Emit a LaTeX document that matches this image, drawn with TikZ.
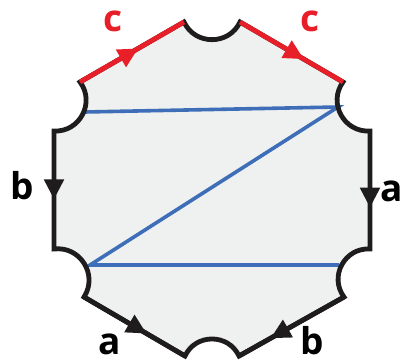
\documentclass[tikz,border=0pt]{standalone}
\usepackage{fontspec}
\setmainfont{Open Sans}
\usetikzlibrary{arrows.meta,decorations.markings}
\definecolor{fillgray}{RGB}{239,240,240}
\definecolor{edgered}{RGB}{232,30,40}
\definecolor{lineblue}{RGB}{62,110,184}
\definecolor{edgeblack}{RGB}{30,28,28}
\begin{document}
\begin{tikzpicture}[x=1pt,y=-1pt,
  notch/.style={bend right=65, looseness=1.19},
  outline/.style={color=edgeblack, draw, line width=4.8pt},
  rededge/.style={color=edgered, draw, line width=4.8pt},
  diag/.style={draw=lineblue, line width=3.6pt},
  midarrow/.style={postaction={decorate}, decoration={markings, mark=at position #1 with {\arrow{Triangle[length=20pt,width=19pt]}}}},
  lbl/.style={font=\fontsize{37}{42}\selectfont\bfseries, anchor=base, inner sep=0pt}
]
\useasboundingbox (0,0) rectangle (403,363);
% notch end points
\coordinate (A1) at (184,22);  \coordinate (B1) at (240,22);
\coordinate (A2) at (343,82);  \coordinate (B2) at (370,131);
\coordinate (A3) at (370,249); \coordinate (B3) at (344,297);
\coordinate (A4) at (239,356); \coordinate (B4) at (185,356);
\coordinate (A5) at (84,297);  \coordinate (B5) at (54,249);
\coordinate (A6) at (54,131);  \coordinate (B6) at (80,82);
% blue end points
\coordinate (U1) at (85,112);  \coordinate (U2) at (338,107);
\coordinate (L1) at (90,265);  \coordinate (L2) at (339,265);
% fill
\path[fill=fillgray] (B6) -- (A1) to[notch] (B1) -- (A2) to[notch] (B2) -- (A3) to[notch] (B3)
  -- (A4) to[notch] (B4) -- (A5) to[notch] (B5) -- (A6) to[notch] (B6) -- cycle;
% blue lines
\draw[diag] (U1) -- (U2) -- (L1) -- (L2);
% outline
\draw[outline] (B6) -- (A1) to[notch] (B1) -- (A2) to[notch] (B2) -- (A3) to[notch] (B3)
  -- (A4) to[notch] (B4) -- (A5) to[notch] (B5) -- (A6) to[notch] (B6) -- cycle;
% edges with arrows
\draw[rededge, midarrow=0.56] (B6) -- (A1);
\draw[rededge, midarrow=0.62] (B1) -- (A2);
\draw[outline, midarrow=0.65] (B2) -- (A3);
\draw[outline, midarrow=0.58] (A6) -- (B5);
\draw[outline, midarrow=0.62] (A5) -- (B4);
\draw[outline, midarrow=0.7] (B3) -- (A4);
% labels
\node[lbl, text=edgered] (lc1) at (113,32) {c};
\node[lbl, text=edgered] (lc2) at (310,32) {c};
\node[lbl] (lb1) at (22,199) {b};
\node[lbl] (la1) at (392,201) {a};
\node[lbl] (la2) at (110,354) {a};
\node[lbl] (lb2) at (312,354) {b};
\end{tikzpicture}
\end{document}
